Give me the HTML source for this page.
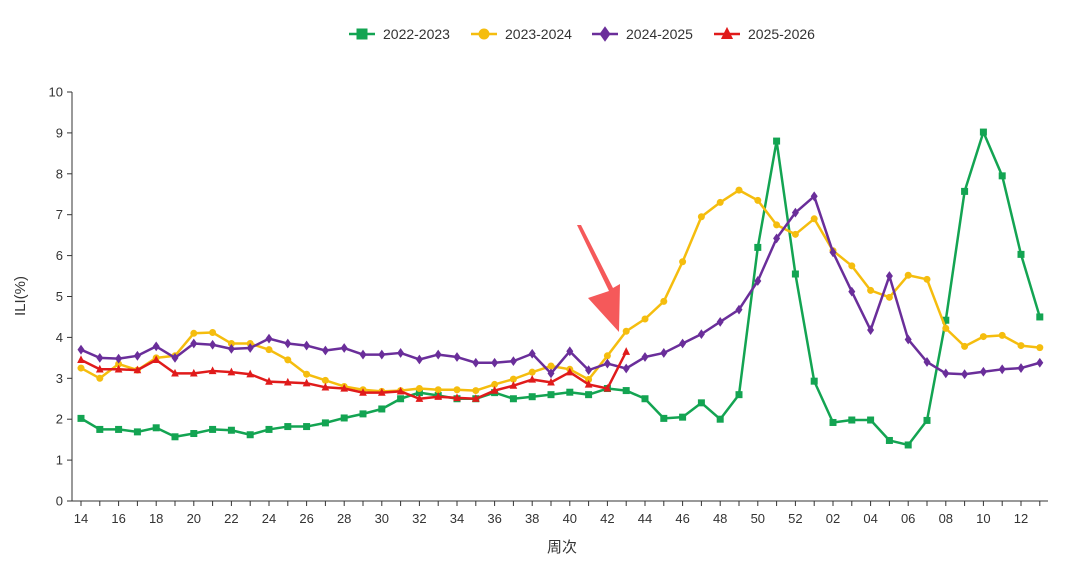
<!DOCTYPE html>
<html><head><meta charset="utf-8"><style>
body{margin:0;background:#fff;width:1080px;height:563px;overflow:hidden}
text{font-family:"Liberation Sans","Noto Sans CJK SC",sans-serif;fill:#333}
</style></head><body>
<svg id="s" width="1080" height="563" xmlns="http://www.w3.org/2000/svg"></svg>
<script>
const S=document.getElementById('s');let h='';
const X0=81,DX=18.8,Y0=501,DY=40.9;
const x=i=>X0+i*DX,y=v=>Y0-v*DY;
h+=`<line x1="72" y1="92" x2="72" y2="501" stroke="#333"/><line x1="72" y1="501" x2="1048" y2="501" stroke="#333"/>`;
for(let v=0;v<=10;v++){h+=`<line x1="67" y1="${y(v)}" x2="72" y2="${y(v)}" stroke="#333"/><text x="63" y="${y(v)+4.5}" font-size="13" text-anchor="end">${v}</text>`;}
const wk=[];for(let w=14;w<=52;w++)wk.push(w);for(let w=1;w<=13;w++)wk.push(w);
wk.forEach((w,i)=>{h+=`<line x1="${x(i)}" y1="501" x2="${x(i)}" y2="506" stroke="#333"/>`;if(w%2==0)h+=`<text x="${x(i)}" y="523" font-size="13" text-anchor="middle">${String(w).padStart(2,'0')}</text>`;});
h+=`<text x="562" y="552" font-size="15" text-anchor="middle">周次</text>`;
h+=`<text transform="translate(25,296) rotate(-90)" font-size="15" text-anchor="middle">ILI(%)</text>`;
const G=[2.02,1.75,1.75,1.69,1.79,1.57,1.65,1.75,1.73,1.62,1.75,1.82,1.82,1.91,2.03,2.13,2.25,2.5,2.65,2.58,2.5,2.5,2.65,2.5,2.55,2.6,2.66,2.6,2.75,2.7,2.5,2.02,2.05,2.4,2.0,2.6,6.2,8.8,5.55,2.93,1.92,1.98,1.98,1.48,1.37,1.97,4.42,7.57,9.02,7.95,6.03,4.5];
const Yl=[3.25,3.0,3.35,3.2,3.5,3.55,4.1,4.12,3.85,3.85,3.7,3.45,3.1,2.95,2.8,2.72,2.68,2.7,2.75,2.72,2.72,2.7,2.85,2.98,3.15,3.3,3.22,2.97,3.55,4.15,4.45,4.88,5.85,6.95,7.3,7.6,7.35,6.75,6.52,6.9,6.12,5.75,5.15,4.98,5.52,5.42,4.22,3.78,4.02,4.05,3.8,3.75];
const P=[3.7,3.5,3.48,3.55,3.78,3.5,3.85,3.82,3.72,3.74,3.97,3.85,3.8,3.68,3.74,3.58,3.58,3.62,3.46,3.58,3.52,3.38,3.38,3.42,3.6,3.12,3.66,3.2,3.36,3.24,3.52,3.62,3.85,4.08,4.38,4.68,5.38,6.42,7.05,7.45,6.08,5.12,4.18,5.5,3.95,3.4,3.12,3.1,3.16,3.22,3.25,3.38];
const R=[3.45,3.22,3.22,3.2,3.45,3.12,3.12,3.18,3.15,3.1,2.92,2.9,2.88,2.78,2.75,2.65,2.65,2.68,2.5,2.55,2.52,2.5,2.7,2.82,2.97,2.9,3.15,2.85,2.75,3.65];
function mk(t,cx,cy,c,s){
 if(t=='sq')return `<rect x="${cx-s}" y="${cy-s}" width="${2*s}" height="${2*s}" fill="${c}"/>`;
 if(t=='ci')return `<circle cx="${cx}" cy="${cy}" r="${s}" fill="${c}"/>`;
 if(t=='di')return `<polygon points="${cx},${cy-s*1.4} ${cx+s},${cy} ${cx},${cy+s*1.4} ${cx-s},${cy}" fill="${c}"/>`;
 return `<polygon points="${cx},${cy-s*1.3} ${cx+s*1.1},${cy+s*0.9} ${cx-s*1.1},${cy+s*0.9}" fill="${c}"/>`;
}
function ser(d,c,t){h+=`<polyline fill="none" stroke="${c}" stroke-width="2.5" stroke-linejoin="round" points="${d.map((v,i)=>x(i)+','+y(v)).join(' ')}"/>`;d.forEach((v,i)=>h+=mk(t,x(i),y(v),c,3.5));}
ser(G,'#13a452','sq');ser(Yl,'#f5bd0e','ci');ser(P,'#6a2e9a','di');ser(R,'#e01b1b','tr');
h+=`<polygon points="577,225 581,225 613,288 620,284 619,332 588,298 609,291" fill="#f5595a"/>`;
[[362,'#13a452','sq','2022-2023'],[484,'#f5bd0e','ci','2023-2024'],[605,'#6a2e9a','di','2024-2025'],[727,'#e01b1b','tr','2025-2026']].forEach(([lx,c,t,l])=>{
 h+=`<line x1="${lx-13}" y1="34" x2="${lx+13}" y2="34" stroke="${c}" stroke-width="2.5"/>`+mk(t,lx,34,c,5.5)+`<text x="${lx+21}" y="39" font-size="14">${l}</text>`;});
S.innerHTML=h;
</script>
</body></html>
